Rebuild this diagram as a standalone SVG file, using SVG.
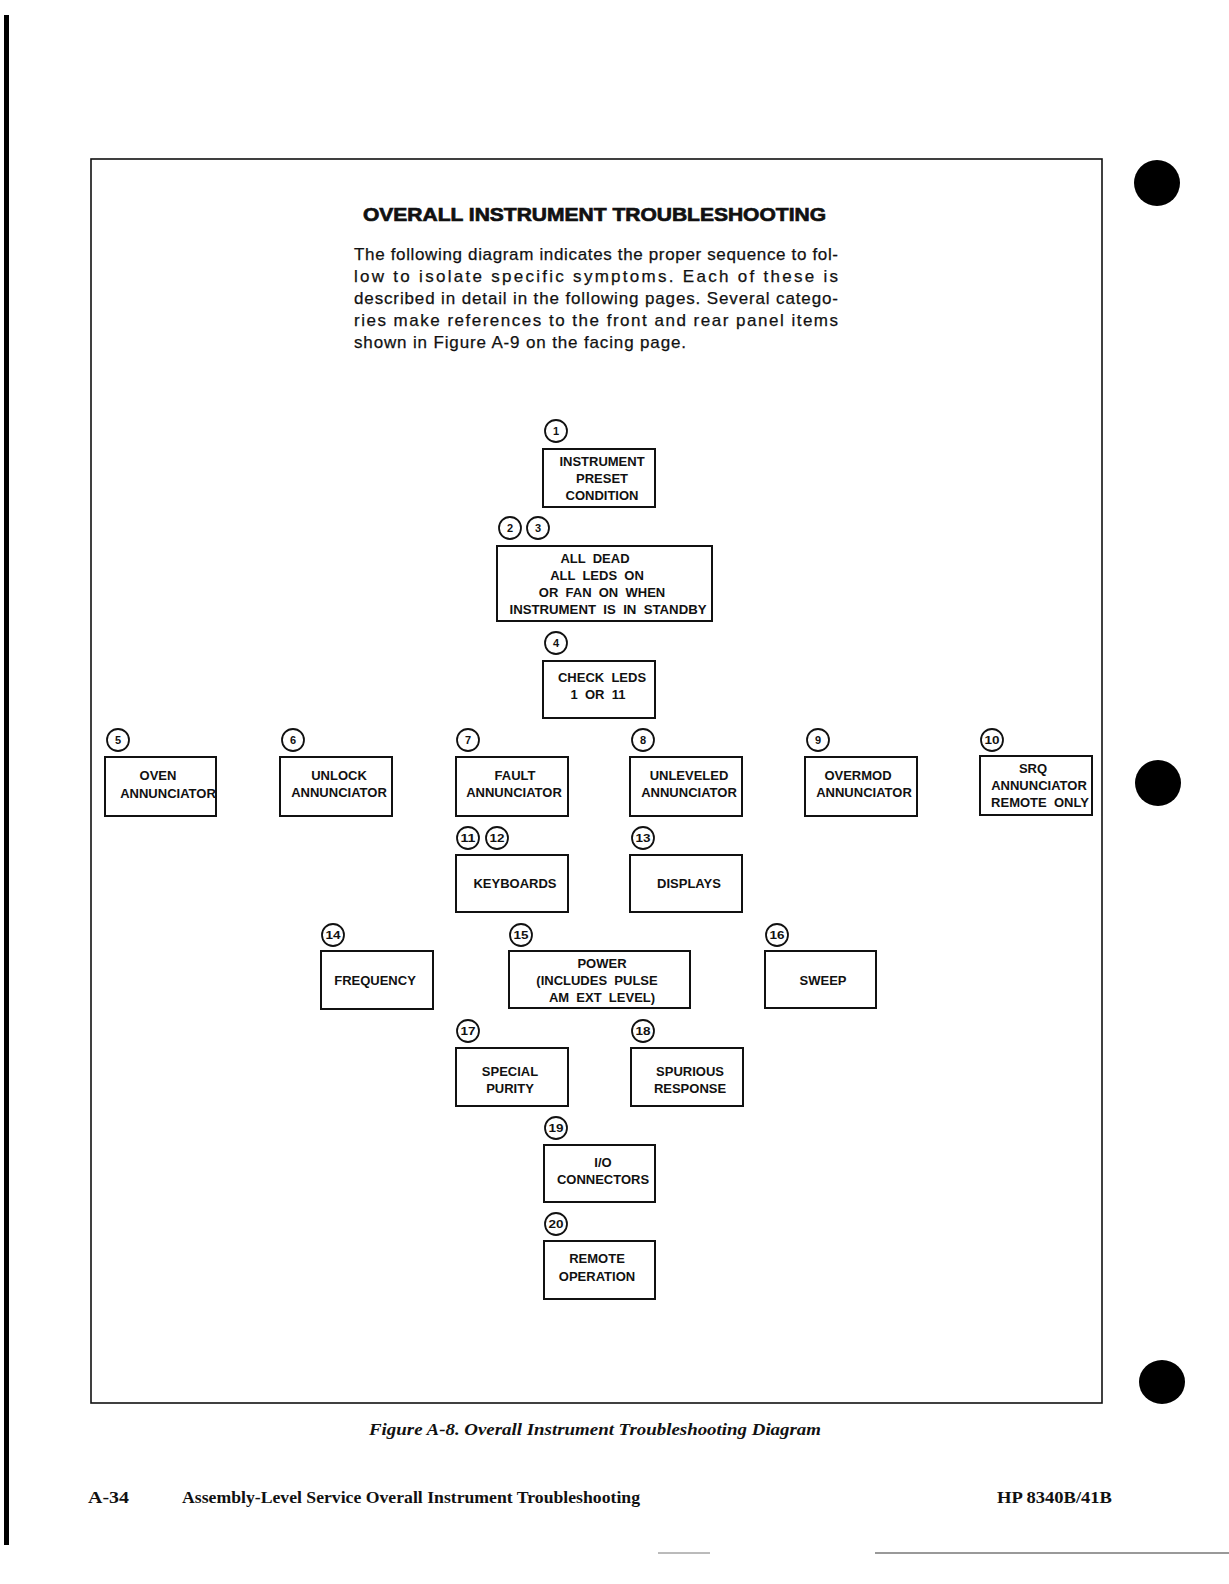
<svg xmlns="http://www.w3.org/2000/svg" width="1229" height="1584" viewBox="0 0 1229 1584">
<style>
.box{fill:none;stroke:#111;stroke-width:2}
.num{fill:none;stroke:#111;stroke-width:1.8}
.nt{font-family:"Liberation Sans",Arial,sans-serif;font-size:11px;font-weight:bold;fill:#111;text-anchor:middle}
.bt{font-family:"Liberation Sans",Arial,sans-serif;font-size:13px;font-weight:bold;fill:#111;text-anchor:middle;white-space:pre}
.para{font-family:"Liberation Sans",Arial,sans-serif;font-size:17px;fill:#111;stroke:#111;stroke-width:0.25}
.title{font-family:"Liberation Sans",Arial,sans-serif;font-size:19px;font-weight:bold;fill:#111;stroke:#111;stroke-width:0.7}
.cap{font-family:"Liberation Serif","Times New Roman",serif;font-size:16px;font-weight:bold;font-style:italic;fill:#111}
.foot{font-family:"Liberation Serif","Times New Roman",serif;font-size:16px;font-weight:bold;fill:#111}
.hole{fill:#000}
</style>
<rect width="1229" height="1584" fill="#fff"/>
<!-- page artifacts -->
<rect x="4" y="15" width="5" height="1530" fill="#000"/>
<ellipse class="hole" cx="1157" cy="183" rx="23" ry="23"/>
<ellipse class="hole" cx="1158" cy="783" rx="23" ry="23"/>
<ellipse class="hole" cx="1162" cy="1382" rx="23" ry="22"/>
<line x1="658" y1="1553" x2="710" y2="1553" stroke="#777" stroke-width="1"/>
<line x1="875" y1="1553" x2="1229" y2="1553" stroke="#777" stroke-width="1.5"/>
<!-- frame -->
<rect x="91" y="159" width="1011" height="1244" fill="none" stroke="#111" stroke-width="1.6"/>
<!-- title and text -->
<text class="title" x="363" y="221" textLength="463" lengthAdjust="spacingAndGlyphs">OVERALL INSTRUMENT TROUBLESHOOTING</text>
<text class="para" x="354" y="260" textLength="484" lengthAdjust="spacing">The following diagram indicates the proper sequence to fol-</text>
<text class="para" x="354" y="282" textLength="484" lengthAdjust="spacing">low to isolate specific symptoms. Each of these is</text>
<text class="para" x="354" y="304" textLength="484" lengthAdjust="spacing">described in detail in the following pages. Several catego-</text>
<text class="para" x="354" y="326" textLength="484" lengthAdjust="spacing">ries make references to the front and rear panel items</text>
<text class="para" x="354" y="348" textLength="332" lengthAdjust="spacing">shown in Figure A-9 on the facing page.</text>
<!-- connectors: none drawn in the reference -->
<g id="connectors"></g>
<g id="node1">
<circle class="num" cx="556" cy="431" r="11"/><text class="nt" x="556" y="435">1</text>
<rect class="box" x="543" y="449" width="112" height="58"/>
<text class="bt" x="602" y="466">INSTRUMENT</text>
<text class="bt" x="602" y="483">PRESET</text>
<text class="bt" x="602" y="500">CONDITION</text>
</g>
<g id="node2-3">
<circle class="num" cx="510" cy="528" r="11"/><text class="nt" x="510" y="532">2</text>
<circle class="num" cx="538" cy="528" r="11"/><text class="nt" x="538" y="532">3</text>
<rect class="box" x="497" y="546" width="215" height="75"/>
<text class="bt" x="595" y="563">ALL  DEAD</text>
<text class="bt" x="597" y="580">ALL  LEDS  ON</text>
<text class="bt" x="602" y="597">OR  FAN  ON  WHEN</text>
<text class="bt" x="608" y="614" textLength="197" lengthAdjust="spacingAndGlyphs">INSTRUMENT  IS  IN  STANDBY</text>
</g>
<g id="node4">
<circle class="num" cx="556" cy="643" r="11"/><text class="nt" x="556" y="647">4</text>
<rect class="box" x="543" y="661" width="112" height="57"/>
<text class="bt" x="602" y="682">CHECK  LEDS</text>
<text class="bt" x="598" y="699">1  OR  11</text>
</g>
<g id="node5">
<circle class="num" cx="118" cy="740" r="11"/><text class="nt" x="118" y="744">5</text>
<rect class="box" x="105" y="757" width="111" height="59"/>
<text class="bt" x="158" y="780">OVEN</text>
<text class="bt" x="168" y="798">ANNUNCIATOR</text>
</g>
<g id="node6">
<circle class="num" cx="293" cy="740" r="11"/><text class="nt" x="293" y="744">6</text>
<rect class="box" x="280" y="757" width="112" height="59"/>
<text class="bt" x="339" y="780">UNLOCK</text>
<text class="bt" x="339" y="797">ANNUNCIATOR</text>
</g>
<g id="node7">
<circle class="num" cx="468" cy="740" r="11"/><text class="nt" x="468" y="744">7</text>
<rect class="box" x="456" y="757" width="112" height="59"/>
<text class="bt" x="515" y="780">FAULT</text>
<text class="bt" x="514" y="797">ANNUNCIATOR</text>
</g>
<g id="node8">
<circle class="num" cx="643" cy="740" r="11"/><text class="nt" x="643" y="744">8</text>
<rect class="box" x="630" y="757" width="112" height="59"/>
<text class="bt" x="689" y="780">UNLEVELED</text>
<text class="bt" x="689" y="797">ANNUNCIATOR</text>
</g>
<g id="node9">
<circle class="num" cx="818" cy="740" r="11"/><text class="nt" x="818" y="744">9</text>
<rect class="box" x="805" y="757" width="112" height="59"/>
<text class="bt" x="858" y="780">OVERMOD</text>
<text class="bt" x="864" y="797">ANNUNCIATOR</text>
</g>
<g id="node10">
<circle class="num" cx="992" cy="740" r="11"/><text class="nt" x="992" y="744" textLength="15" lengthAdjust="spacingAndGlyphs">10</text>
<rect class="box" x="980" y="756" width="112" height="59"/>
<text class="bt" x="1033" y="773">SRQ</text>
<text class="bt" x="1039" y="790">ANNUNCIATOR</text>
<text class="bt" x="1040" y="807">REMOTE  ONLY</text>
</g>
<g id="node11-12">
<circle class="num" cx="468" cy="838" r="11"/><text class="nt" x="468" y="842" textLength="15" lengthAdjust="spacingAndGlyphs">11</text>
<circle class="num" cx="497" cy="838" r="11"/><text class="nt" x="497" y="842" textLength="15" lengthAdjust="spacingAndGlyphs">12</text>
<rect class="box" x="456" y="855" width="112" height="57"/>
<text class="bt" x="515" y="888">KEYBOARDS</text>
</g>
<g id="node13">
<circle class="num" cx="643" cy="838" r="11"/><text class="nt" x="643" y="842" textLength="15" lengthAdjust="spacingAndGlyphs">13</text>
<rect class="box" x="630" y="855" width="112" height="57"/>
<text class="bt" x="689" y="888">DISPLAYS</text>
</g>
<g id="node14">
<circle class="num" cx="333" cy="935" r="11"/><text class="nt" x="333" y="939" textLength="15" lengthAdjust="spacingAndGlyphs">14</text>
<rect class="box" x="321" y="951" width="112" height="58"/>
<text class="bt" x="375" y="985">FREQUENCY</text>
</g>
<g id="node15">
<circle class="num" cx="521" cy="935" r="11"/><text class="nt" x="521" y="939" textLength="15" lengthAdjust="spacingAndGlyphs">15</text>
<rect class="box" x="509" y="951" width="181" height="57"/>
<text class="bt" x="602" y="968">POWER</text>
<text class="bt" x="597" y="985">(INCLUDES  PULSE</text>
<text class="bt" x="602" y="1002">AM  EXT  LEVEL)</text>
</g>
<g id="node16">
<circle class="num" cx="777" cy="935" r="11"/><text class="nt" x="777" y="939" textLength="15" lengthAdjust="spacingAndGlyphs">16</text>
<rect class="box" x="765" y="951" width="111" height="57"/>
<text class="bt" x="823" y="985">SWEEP</text>
</g>
<g id="node17">
<circle class="num" cx="468" cy="1031" r="11"/><text class="nt" x="468" y="1035" textLength="15" lengthAdjust="spacingAndGlyphs">17</text>
<rect class="box" x="456" y="1048" width="112" height="58"/>
<text class="bt" x="510" y="1076">SPECIAL</text>
<text class="bt" x="510" y="1093">PURITY</text>
</g>
<g id="node18">
<circle class="num" cx="643" cy="1031" r="11"/><text class="nt" x="643" y="1035" textLength="15" lengthAdjust="spacingAndGlyphs">18</text>
<rect class="box" x="631" y="1048" width="112" height="58"/>
<text class="bt" x="690" y="1076">SPURIOUS</text>
<text class="bt" x="690" y="1093">RESPONSE</text>
</g>
<g id="node19">
<circle class="num" cx="556" cy="1128" r="11"/><text class="nt" x="556" y="1132" textLength="15" lengthAdjust="spacingAndGlyphs">19</text>
<rect class="box" x="544" y="1145" width="111" height="57"/>
<text class="bt" x="603" y="1167">I/O</text>
<text class="bt" x="603" y="1184">CONNECTORS</text>
</g>
<g id="node20">
<circle class="num" cx="556" cy="1224" r="11"/><text class="nt" x="556" y="1228" textLength="15" lengthAdjust="spacingAndGlyphs">20</text>
<rect class="box" x="544" y="1241" width="111" height="58"/>
<text class="bt" x="597" y="1263">REMOTE</text>
<text class="bt" x="597" y="1281">OPERATION</text>
</g>
<!-- caption and footer -->
<text class="cap" x="369" y="1435" textLength="452" lengthAdjust="spacingAndGlyphs">Figure A-8. Overall Instrument Troubleshooting Diagram</text>
<text class="foot" x="88" y="1503" textLength="41" lengthAdjust="spacingAndGlyphs">A-34</text>
<text class="foot" x="182" y="1503" textLength="458" lengthAdjust="spacingAndGlyphs">Assembly-Level Service Overall Instrument Troubleshooting</text>
<text class="foot" x="997" y="1503" textLength="115" lengthAdjust="spacingAndGlyphs">HP 8340B/41B</text>
</svg>
